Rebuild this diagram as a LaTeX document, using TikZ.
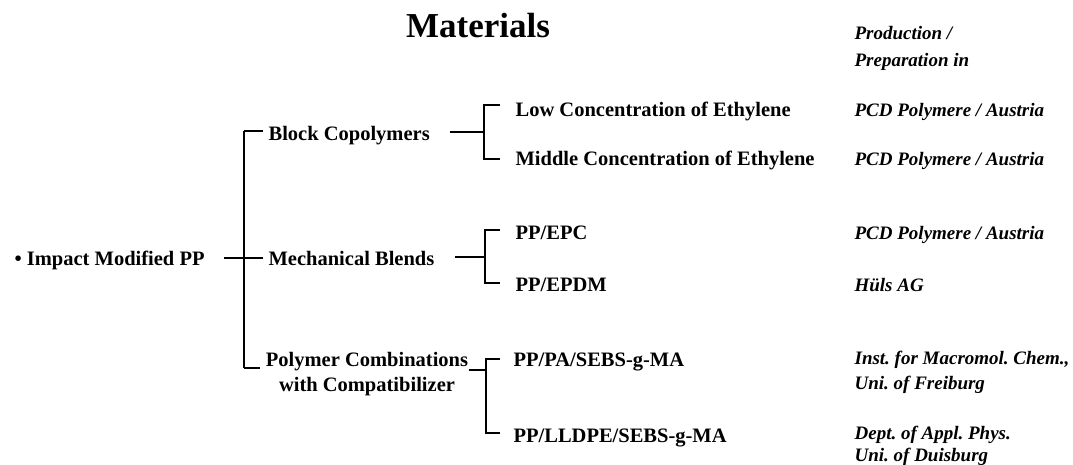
\documentclass[tikz,border=0pt]{standalone}
\usepackage{fontspec}
\setmainfont{Liberation Serif}
\frenchspacing
\begin{document}
\begin{tikzpicture}[x=1pt,y=-1pt,line width=1.2pt,
  bt/.style={font=\fontsize{20.5}{25}\selectfont\bfseries, inner sep=0pt, anchor=base west},
  it/.style={font=\fontsize{19}{25}\selectfont\bfseries\itshape, inner sep=0pt, anchor=base west},
  itm/.style={font=\fontsize{19}{#1}\selectfont\bfseries\itshape, inner sep=0pt, anchor=north west, align=left},
  conn/.style={line width=1.2pt}]
\useasboundingbox[fill=white] (0,0) rectangle (1073,465);
% title and column heading
\node[font=\fontsize{35}{42}\selectfont\bfseries, inner sep=0pt, anchor=base] (title) at (478,38) {Materials};
\node[itm=27] (head) at (854,26) {Production /\\Preparation in};
% tree nodes
\node[bt] (root) at (14,265) {• Impact Modified PP};
\node[bt] (bc) at (268,141) {Block Copolymers};
\node[bt] (mb) at (268,265) {Mechanical Blends};
\node[font=\fontsize{20.5}{25}\selectfont\bfseries, inner sep=0pt, anchor=north, align=center] (pc) at (367,352) {Polymer Combinations\\with Compatibilizer};
\node[bt] (low) at (515,117) {Low Concentration of Ethylene};
\node[bt] (mid) at (515,166) {Middle Concentration of Ethylene};
\node[bt] (epc) at (515,240) {PP/EPC};
\node[bt] (epdm) at (515,291) {PP/EPDM};
\node[bt] (pa) at (513,366) {PP/PA/SEBS-g-MA};
\node[bt] (lldpe) at (513,442) {PP/LLDPE/SEBS-g-MA};
% producers
\node[it] (p1) at (854,117) {PCD Polymere / Austria};
\node[it] (p2) at (854,166) {PCD Polymere / Austria};
\node[it] (p3) at (854,240) {PCD Polymere / Austria};
\node[it] (p4) at (854,291) {Hüls AG};
\node[itm=25] (p5) at (854,351) {Inst. for Macromol. Chem.,\\Uni. of Freiburg};
\node[itm=22] (p6) at (854,426) {Dept. of Appl. Phys.\\Uni. of Duisburg};
% level 1 connectors
\coordinate (vt) at (244,131);
\coordinate (vm) at (244,258);
\coordinate (vb) at (244,368);
\draw[conn] (vt) -- (vb);
\draw[conn] ([xshift=19pt]root.east |- vm) -- ([xshift=-5pt]mb.west |- vm);
\draw[conn] (vt) -- ([xshift=-5pt]bc.west |- vt);
\draw[conn] (vb) -- ([xshift=-5pt]pc.west |- vb);
% block copolymers bracket
\coordinate (bj) at (484,132);
\coordinate (bt) at (484,105);
\coordinate (bb) at (484,159);
\draw[conn] ([xshift=20pt]bc.east |- bj) -- (bj);
\draw[conn] ([xshift=-15pt]low.west |- bt) -- (bt) -- (bb) -- ([xshift=-15pt]mid.west |- bb);
% mechanical blends bracket
\coordinate (mj) at (485,257);
\coordinate (mt) at (485,230);
\coordinate (mbb) at (485,283);
\draw[conn] ([xshift=20pt]mb.east |- mj) -- (mj);
\draw[conn] ([xshift=-15pt]epc.west |- mt) -- (mt) -- (mbb) -- ([xshift=-15pt]epdm.west |- mbb);
% polymer combinations bracket
\coordinate (pj) at (486,370);
\coordinate (pt) at (486,359);
\coordinate (pb) at (486,433);
\draw[conn] (pc.east |- pj) -- (pj);
\draw[conn] ([xshift=-13pt]pa.west |- pt) -- (pt) -- (pb) -- ([xshift=-13pt]lldpe.west |- pb);
\end{tikzpicture}
\end{document}
